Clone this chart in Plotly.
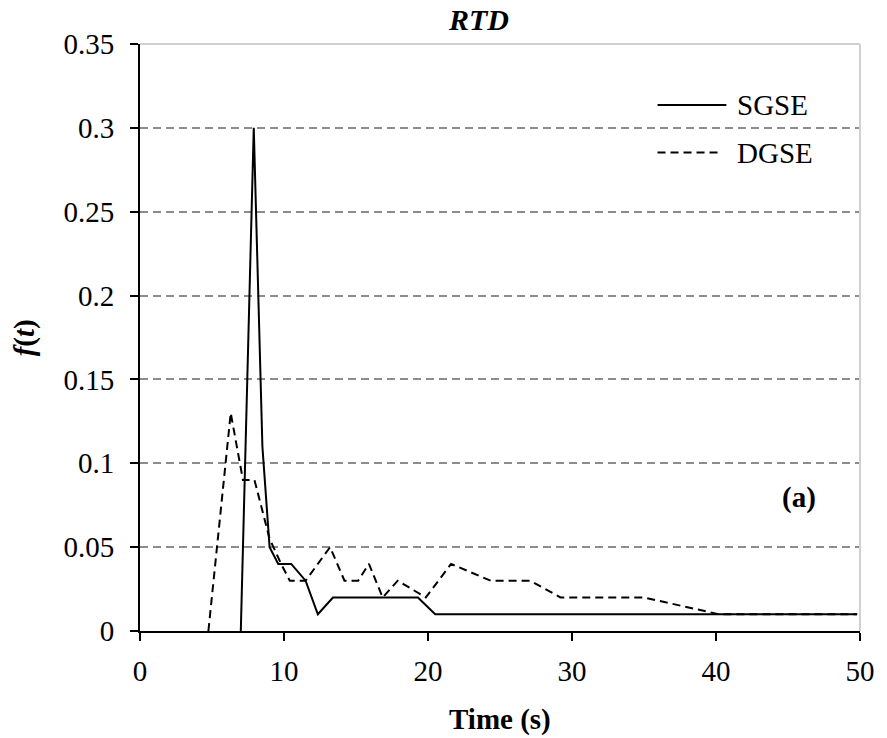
import plotly.graph_objects as go

# Residence time distribution curves
sgse_t = [7.0, 7.9, 8.5, 9.0, 9.6, 10.5, 11.5, 12.35, 13.4, 19.3, 20.5, 49.8]
sgse_f = [0.0, 0.30, 0.11, 0.05, 0.04, 0.04, 0.03, 0.01, 0.02, 0.02, 0.01, 0.01]

dgse_t = [4.75, 6.3, 7.15, 7.95, 9.0, 9.8, 10.4, 11.5, 13.2, 14.2, 15.15, 15.9,
          16.85, 17.9, 19.85, 21.6, 24.35, 27.1, 29.2, 35.0, 40.2, 49.8]
dgse_f = [0.0, 0.13, 0.09, 0.09, 0.055, 0.04, 0.03, 0.03, 0.05, 0.03, 0.03, 0.04,
          0.02, 0.03, 0.02, 0.04, 0.03, 0.03, 0.02, 0.02, 0.01, 0.01]

x_ticks = [0, 10, 20, 30, 40, 50]
y_ticks = [0, 0.05, 0.1, 0.15, 0.2, 0.25, 0.3, 0.35]
y_tick_text = ["0", "0.05", "0.1", "0.15", "0.2", "0.25", "0.3", "0.35"]

FONT = "Liberation Serif"
FS = 29

fig = go.Figure()
fig.add_trace(go.Scatter(x=sgse_t, y=sgse_f, mode="lines", name="SGSE",
                         line=dict(color="black", width=2), showlegend=False))
fig.add_trace(go.Scatter(x=dgse_t, y=dgse_f, mode="lines", name="DGSE",
                         line=dict(color="black", width=2, dash="8px,5px"),
                         showlegend=False))

fig.update_layout(
    width=887, height=738,
    margin=dict(l=140, r=25, t=44, b=107),
    paper_bgcolor="white", plot_bgcolor="white",
    font=dict(family=FONT, size=FS, color="black"),
    xaxis=dict(range=[0, 50], tickvals=x_ticks, showgrid=False, zeroline=False,
               showline=True, linecolor="black", linewidth=2,
               ticks="outside", ticklen=8, tickwidth=2, tickcolor="black",
               ticklabelstandoff=5, tickfont=dict(family=FONT, size=FS)),
    yaxis=dict(range=[0, 0.35], tickvals=y_ticks, ticktext=y_tick_text,
               showgrid=True, gridcolor="#8c8c8c", gridwidth=1.5, griddash="8px,5px",
               zeroline=False, showline=True, linecolor="black", linewidth=2,
               ticks="outside", ticklen=8, tickwidth=2, tickcolor="black",
               ticklabelstandoff=10, tickfont=dict(family=FONT, size=FS)),
)

# light plot-area border on top and right
fig.add_shape(type="line", xref="paper", yref="paper", x0=0, x1=1, y0=1, y1=1,
              line=dict(color="#d0d0d0", width=2))
fig.add_shape(type="line", xref="paper", yref="paper", x0=1, x1=1, y0=0, y1=1,
              line=dict(color="#d0d0d0", width=2))

# legend
fig.add_shape(type="line", xref="paper", yref="paper", x0=0.7188, x1=0.8144,
              y0=0.896, y1=0.896, line=dict(color="black", width=2))
fig.add_shape(type="line", xref="paper", yref="paper", x0=0.7188, x1=0.8070,
              y0=0.815, y1=0.815, line=dict(color="black", width=2, dash="8px,5px"))
fig.add_annotation(text="SGSE", xref="paper", yref="paper", x=0.8269, y=0.896,
                   xanchor="left", yanchor="middle", showarrow=False,
                   font=dict(family=FONT, size=FS))
fig.add_annotation(text="DGSE", xref="paper", yref="paper", x=0.8269, y=0.815,
                   xanchor="left", yanchor="middle", showarrow=False,
                   font=dict(family=FONT, size=FS))

# titles and panel label
fig.add_annotation(text="<b><i>RTD</i></b>", xref="paper", yref="paper",
                   x=0.4695, y=1.0, yshift=25, xanchor="center", yanchor="middle",
                   showarrow=False, font=dict(family=FONT, size=30))
fig.add_annotation(text="<b>Time (s)</b>", xref="paper", yref="paper",
                   x=0.5, y=-0.1516, xanchor="center", yanchor="middle",
                   showarrow=False, font=dict(family=FONT, size=FS))
fig.add_annotation(text="<b><i>f</i>(<i>t</i>)</b>", xref="paper", yref="paper",
                   x=-0.1600, y=0.5, xanchor="center", yanchor="middle",
                   textangle=-90, showarrow=False, font=dict(family=FONT, size=FS))
fig.add_annotation(text="<b>(a)</b>", xref="paper", yref="paper",
                   x=0.9155, y=0.228, xanchor="center", yanchor="middle",
                   showarrow=False, font=dict(family=FONT, size=FS))

fig.write_html("out.html")
